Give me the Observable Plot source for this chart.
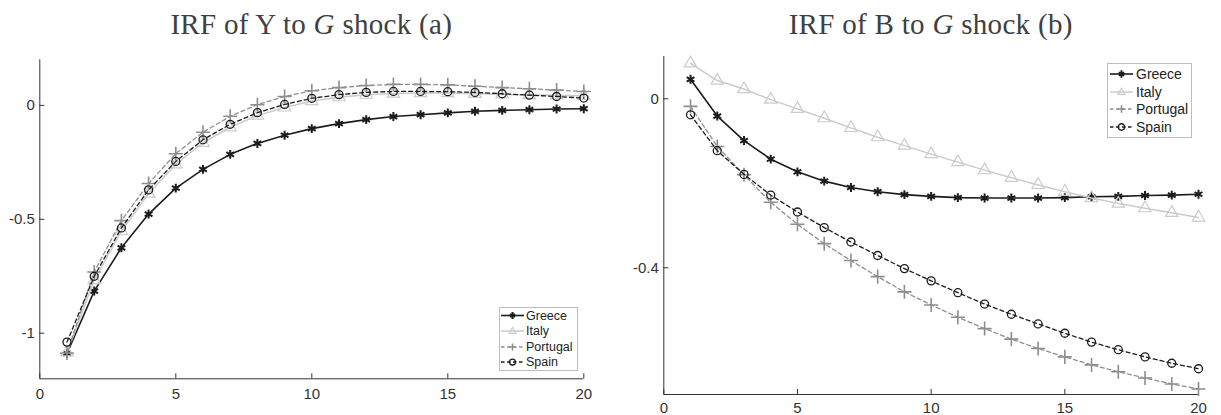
<!DOCTYPE html>
<html><head><meta charset="utf-8">
<script src="https://cdn.jsdelivr.net/npm/d3@7"></script>
<script src="https://cdn.jsdelivr.net/npm/@observablehq/plot@0.6"></script>
<style>
body{margin:0;background:#fff;}
#wrap{position:relative;width:1221px;height:415px;overflow:hidden;}
.panel{position:absolute;top:0;height:415px;}
.title{position:absolute;top:0;height:45px;text-align:center;font-family:"Liberation Serif",serif;font-size:29px;color:#404040;line-height:29px;padding-top:10px;box-sizing:border-box;white-space:nowrap;letter-spacing:0.3px;}
.plot{position:absolute;top:45px;left:0;}
</style></head><body><div id="wrap"></div>
<script>
// ---- data ----
const periods = [1,2,3,4,5,6,7,8,9,10,11,12,13,14,15,16,17,18,19,20];
const countries = ["Greece","Italy","Portugal","Spain"];

// Panel (a): IRF of Y to G shock
const yGreece   = [-1.089,-0.815,-0.625,-0.477,-0.363,-0.281,-0.215,-0.167,-0.131,-0.102,-0.080,-0.0625,-0.049,-0.041,-0.033,-0.026,-0.022,-0.019,-0.016,-0.0145];
const yItaly    = [-1.084,-0.767,-0.552,-0.387,-0.259,-0.164,-0.096,-0.045,-0.009,0.019,0.036,0.047,0.052,0.054,0.054,0.051,0.048,0.046,0.044,0.042];
const yPortugal = [-1.087,-0.731,-0.506,-0.343,-0.212,-0.118,-0.048,0.003,0.039,0.064,0.078,0.087,0.092,0.092,0.090,0.084,0.078,0.073,0.067,0.061];
const ySpain    = [-1.039,-0.750,-0.538,-0.371,-0.246,-0.151,-0.083,-0.032,0.004,0.031,0.047,0.057,0.061,0.061,0.060,0.057,0.051,0.045,0.039,0.032];

// Panel (b): IRF of B to G shock
const bGreece   = [0.046,-0.041,-0.099,-0.143,-0.173,-0.195,-0.210,-0.220,-0.227,-0.231,-0.234,-0.235,-0.235,-0.235,-0.234,-0.232,-0.231,-0.229,-0.228,-0.226];
const bItaly    = [0.084,0.043,0.023,-0.002,-0.024,-0.046,-0.069,-0.091,-0.111,-0.131,-0.150,-0.169,-0.187,-0.204,-0.220,-0.235,-0.248,-0.259,-0.270,-0.281];
const bPortugal = [-0.018,-0.113,-0.180,-0.245,-0.297,-0.343,-0.383,-0.421,-0.457,-0.488,-0.517,-0.544,-0.569,-0.591,-0.611,-0.630,-0.646,-0.661,-0.675,-0.687];
const bSpain    = [-0.038,-0.123,-0.179,-0.228,-0.268,-0.305,-0.339,-0.371,-0.402,-0.431,-0.459,-0.486,-0.510,-0.533,-0.555,-0.576,-0.594,-0.611,-0.626,-0.639];

const xTicks = [0,5,10,15,20];
const xTickLabels = ["0","5","10","15","20"];
const yTicksA = [-1,-0.5,0];
const yTickLabelsA = ["-1","-0.5","0"];
const yTicksB = [-0.4,0];
const yTickLabelsB = ["-0.4","0"];

const titleA = ["IRF of Y to ", "G", " shock (a)"];
const titleB = ["IRF of B to ", "G", " shock (b)"];

// ---- styles ----
const styles = {
  Greece:   {stroke:"#1c1c1c", sw:1.6, dash:null,  symbol:"asterisk", msw:2.0, r:4.2},
  Italy:    {stroke:"#cbcbcb", sw:1.5, dash:null,  symbol:"triangle", msw:1.2, r:4.6},
  Portugal: {stroke:"#8e8e8e", sw:1.3, dash:"4,3", symbol:"plus",     msw:1.6, r:4.6},
  Spain:    {stroke:"#1c1c1c", sw:1.3, dash:"4,3", symbol:"circle",   msw:1.3, r:4.0}
};

function tidy(series){
  return countries.flatMap(c => periods.map((t,i) => ({t, v: series[c][i], c})));
}

// legend marker path (centered at 0,0, half-size h)
function markerPath(symbol, h){
  const a = h, d = h*0.72;
  if (symbol === "asterisk") return `M0,${-a}V${a}M${-d},${-d*0.58}L${d},${d*0.58}M${-d},${d*0.58}L${d},${-d*0.58}`;
  if (symbol === "plus") return `M0,${-a}V${a}M${-a},0H${a}`;
  if (symbol === "triangle") return `M0,${-a}L${a*0.95},${a*0.65}H${-a*0.95}Z`;
  return `M${a*0.85},0A${a*0.85},${a*0.85},0,1,1,${-a*0.85},0A${a*0.85},${a*0.85},0,1,1,${a*0.85},0Z`;
}

function makePanel(opts){
  const {left, width, mL, mR, mT, mB, yDomain, yTicks, yLabels, series, title, legend, xPad} = opts;
  const height = 370;
  const plotW = width - mL - mR, plotH = height - mT - mB;
  const rows = tidy(series);
  const marks = [
    Plot.ruleX([0], {stroke:"#333", strokeWidth:1}),
    Plot.ruleY([yDomain[0]], {stroke:"#333", strokeWidth:1}),
    Plot.tickX(xTicks, {x:d=>d, stroke:"#333", insetTop: plotH - 5}),
    Plot.tickY(yTicks, {y:d=>d, stroke:"#333", insetRight: plotW - 5}),
    Plot.axisX({ticks:xTicks, tickSize:0, tickPadding:xPad, label:null, tickFormat:(d)=>xTickLabels[xTicks.indexOf(d)], fontSize:15}),
    Plot.axisY({ticks:yTicks, tickSize:0, tickPadding:5, label:null, tickFormat:(d)=>yLabels[yTicks.indexOf(d)], fontSize:15})
  ];
  for (const c of countries){
    const s = styles[c];
    const d = rows.filter(r => r.c === c);
    marks.push(Plot.line(d, {x:"t", y:"v", stroke:s.stroke, strokeWidth:s.sw, strokeDasharray:s.dash}));
    marks.push(Plot.dot(d, {x:"t", y:"v", symbol:s.symbol, r:s.r, stroke:s.stroke, fill:"none", strokeWidth:s.msw}));
  }
  const svg = Plot.plot({
    width, height, marginLeft:mL, marginRight:mR, marginTop:mT, marginBottom:mB,
    x:{domain:[0,20], axis:null},
    y:{domain:yDomain, axis:null},
    style:{fontFamily:'"Liberation Sans", Arial, sans-serif', color:"#333", background:"transparent", overflow:"visible"},
    marks
  });
  const panel = document.createElement("div");
  panel.className = "panel";
  panel.style.left = left + "px";
  panel.style.width = width + "px";
  const t = document.createElement("div");
  t.className = "title";
  t.style.left = mL + "px";
  t.style.width = plotW + "px";
  t.innerHTML = title[0] + "<i>" + title[1] + "</i>" + title[2];
  panel.appendChild(t);
  svg.classList.add("plot");
  panel.appendChild(svg);
  document.getElementById("wrap").appendChild(panel);

  // legend
  const L = legend;
  const g = d3.select(svg).append("g")
    .attr("font-family",'"Liberation Sans", Arial, sans-serif')
    .attr("font-size", L.fs + "px").attr("text-anchor", "start");
  g.append("rect").attr("x", L.x0 + 0.5).attr("y", L.y0 + 0.5).attr("width", L.w).attr("height", L.h)
    .attr("fill", "#fff").attr("stroke", "#bdbdbd").attr("stroke-width", 1);
  countries.forEach((c, i) => {
    const s = styles[c];
    const y = L.rows[i];
    g.append("line").attr("x1", L.s1).attr("x2", L.s2).attr("y1", y).attr("y2", y)
      .attr("stroke", s.stroke).attr("stroke-width", s.sw).attr("stroke-dasharray", s.dash ? "3.5,2.5" : null);
    g.append("path").attr("d", markerPath(s.symbol, L.mh))
      .attr("transform", `translate(${(L.s1+L.s2)/2},${y})`)
      .attr("fill", "none").attr("stroke", s.stroke).attr("stroke-width", s.msw);
    g.append("text").attr("x", L.tx).attr("y", y).attr("dy", "0.35em").attr("fill", "#222").text(c);
  });
}

makePanel({
  left:0, width:610, mL:39.3, mR:26.7, mT:14.3, mB:36.7, xPad:9.5,
  yDomain:[-1.2,0.2], yTicks:yTicksA, yLabels:yTickLabelsA, title:titleA,
  series:{Greece:yGreece, Italy:yItaly, Portugal:yPortugal, Spain:ySpain},
  legend:{x0:499, y0:262, w:78, h:63, fs:12.5, rows:[270.5,286,302,317], s1:501, s2:524, tx:526, mh:3.5}
});
makePanel({
  left:610, width:611, mL:53.3, mR:23, mT:11, mB:21, xPad:8,
  yDomain:[-0.7,0.1], yTicks:yTicksB, yLabels:yTickLabelsB, title:titleB,
  series:{Greece:bGreece, Italy:bItaly, Portugal:bPortugal, Spain:bSpain},
  legend:{x0:497, y0:18, w:84, h:74, fs:14, rows:[29,47,64,82], s1:500, s2:523, tx:526, mh:3.8}
});
</script>
</body></html>
